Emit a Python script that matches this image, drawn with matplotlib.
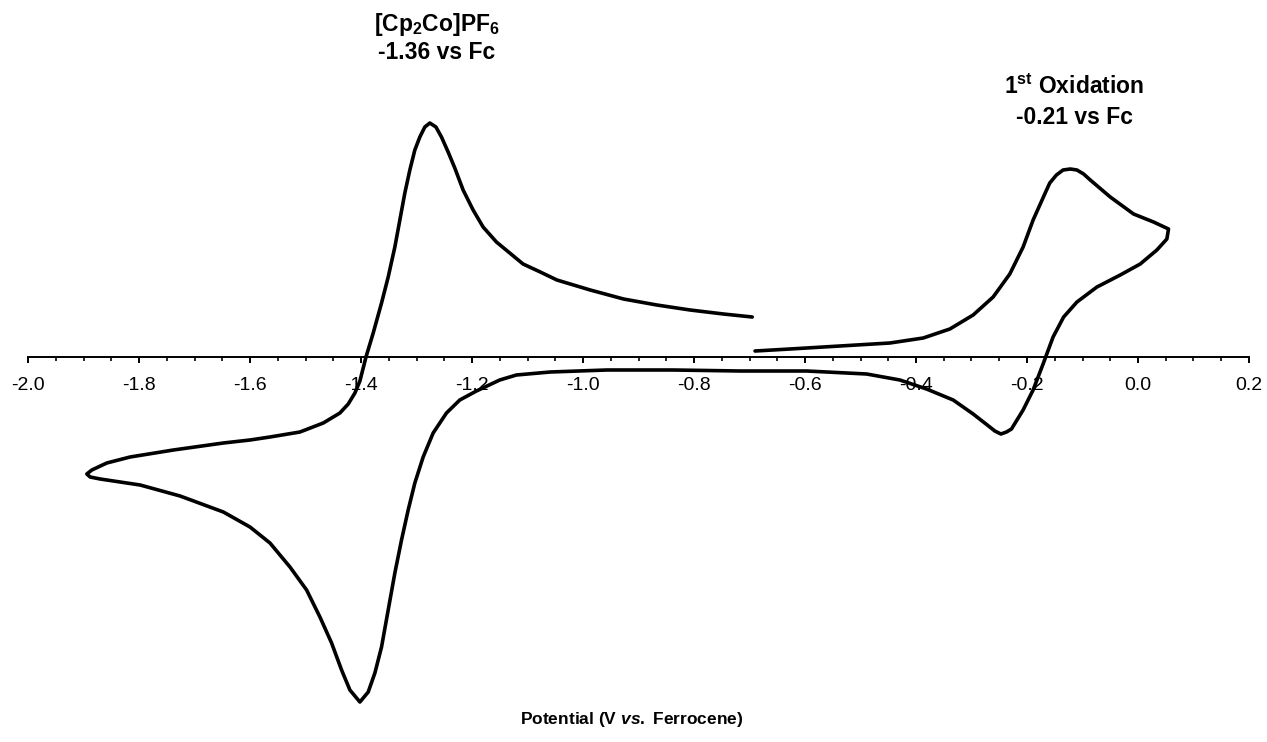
#Purpose: cyclic voltammogram of the cobaltocenium reference and the 1st oxidation

import numpy as np
import matplotlib
matplotlib.use('Agg')
import matplotlib.pyplot as plt
from matplotlib.ticker import MultipleLocator, FuncFormatter

plt.rcParams['font.family'] = 'Liberation Sans'
plt.rcParams['axes.unicode_minus'] = False
plt.rcParams['mathtext.fontset'] = 'custom'
plt.rcParams['mathtext.rm'] = 'Liberation Sans:bold'
plt.rcParams['mathtext.it'] = 'Liberation Sans:bold:italic'
plt.rcParams['mathtext.bf'] = 'Liberation Sans:bold'

#scan data (V vs Fc, current in arbitrary units)
potential = [-0.695, -0.747, -0.807, -0.867, -0.927, -0.987, -1.047, -1.077, -1.108, -1.132,
             -1.156, -1.180, -1.198, -1.216, -1.231, -1.243, -1.255, -1.265, -1.276, -1.285,
             -1.294, -1.303, -1.312, -1.321, -1.330, -1.339, -1.351, -1.363, -1.378, -1.391,
             -1.402, -1.411, -1.423, -1.438, -1.468, -1.510, -1.564, -1.600, -1.648, -1.738,
             -1.816, -1.858, -1.885, -1.894, -1.888, -1.870, -1.798, -1.726, -1.648, -1.600,
             -1.564, -1.528, -1.498, -1.474, -1.453, -1.435, -1.420, -1.402, -1.387, -1.375,
             -1.363, -1.351, -1.339, -1.327, -1.315, -1.303, -1.288, -1.270, -1.246, -1.222,
             -1.192, -1.150, -1.120, -1.059, -0.957, -0.837, -0.717, -0.597, -0.489, -0.429,
             -0.381, -0.333, -0.297, -0.267, -0.258, -0.247, -0.237, -0.228, -0.207, -0.189,
             -0.171, -0.153, -0.134, -0.110, -0.074, -0.032, 0.004, 0.034, 0.052, 0.055,
             0.028, -0.008, -0.050, -0.086, -0.098, -0.110, -0.122, -0.135, -0.147, -0.159,
             -0.168, -0.189, -0.207, -0.231, -0.261, -0.297, -0.339, -0.387, -0.447, -0.537,
             -0.627, -0.690]
current = [4.0, 4.3, 4.7, 5.2, 5.8, 6.7, 7.7, 8.5, 9.3, 10.4,
           11.5, 13.0, 14.7, 16.7, 18.9, 20.5, 22.0, 23.0, 23.4, 23.0,
           22.0, 20.7, 18.7, 16.4, 13.7, 11.0, 8.0, 5.4, 2.4, 0.0,
           -2.4, -3.6, -4.7, -5.6, -6.6, -7.5, -8.0, -8.3, -8.6, -9.3,
           -10.0, -10.6, -11.3, -11.7, -12.0, -12.2, -12.8, -13.9, -15.5, -17.0,
           -18.6, -21.0, -23.3, -26.0, -28.6, -31.3, -33.3, -34.5, -33.5, -31.6,
           -29.0, -25.3, -21.6, -18.3, -15.3, -12.6, -10.0, -7.6, -5.6, -4.3,
           -3.4, -2.3, -1.8, -1.5, -1.3, -1.3, -1.4, -1.4, -1.7, -2.3,
           -3.2, -4.3, -5.7, -7.0, -7.4, -7.7, -7.5, -7.2, -5.3, -3.3,
           -0.7, 2.0, 4.0, 5.5, 7.0, 8.2, 9.3, 10.7, 11.8, 12.8,
           13.5, 14.3, 16.0, 17.7, 18.3, 18.7, 18.8, 18.7, 18.2, 17.4,
           16.3, 13.7, 11.0, 8.3, 6.0, 4.2, 2.8, 1.9, 1.4, 1.1,
           0.8, 0.6]

W, H = 1267, 742
fig = plt.figure(figsize=(W/100, H/100), dpi=100)
ax = fig.add_axes([28/W, (H-712)/H, (1249-28)/W, 612/H])

ax.plot(potential, current, color='black', lw=2.6, solid_joinstyle='round', solid_capstyle='round')

ax.set_xlim(-2.0, 0.2)
ax.set_ylim(-35.5, 25.7)

#only the x axis, running through zero current
for side in ['left', 'right', 'top']:
    ax.spines[side].set_visible(False)
ax.spines['bottom'].set_position(('data', 0))
ax.spines['bottom'].set_linewidth(1.4)
ax.yaxis.set_visible(False)

ax.xaxis.set_major_locator(MultipleLocator(0.2))
ax.xaxis.set_minor_locator(MultipleLocator(0.05))
ax.xaxis.set_major_formatter(FuncFormatter(lambda v, p: '0.0' if abs(v) < 1e-9 else '%.1f' % v))
ax.tick_params(axis='x', which='major', direction='out', length=4.3, width=1.4, pad=10, labelsize=14)
ax.tick_params(axis='x', which='minor', direction='out', length=2.9, width=1.2)

#peak labels
fig.text(437/W, 1-31/H, '[Cp$_2$Co]PF$_6$', ha='center', va='baseline', fontsize=16.5, fontweight='bold')
fig.text(437/W, 1-59/H, '-1.36 vs Fc', ha='center', va='baseline', fontsize=16.5, fontweight='bold')
fig.text(1074/W, 1-94/H, r'1$^{\mathrm{st}}$ Oxidation', ha='center', va='baseline', fontsize=16.5, fontweight='bold')
fig.text(1074/W, 1-124/H, '-0.21 vs Fc', ha='center', va='baseline', fontsize=16.5, fontweight='bold')

#axis title
fig.text(632/W, 1-724/H, r'Potential (V $\mathit{vs.}$ Ferrocene)', ha='center', va='baseline',
         fontsize=12.5, fontweight='bold')

fig.savefig('out.png', dpi=100)
